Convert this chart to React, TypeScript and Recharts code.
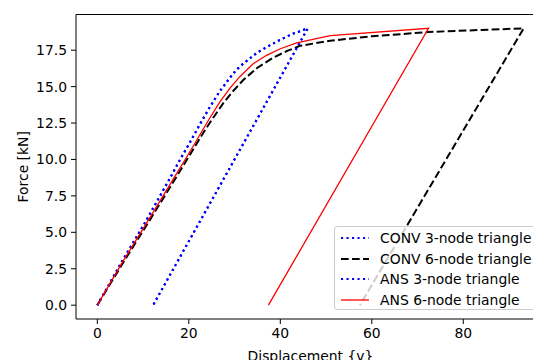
import {
    LineChart,
    Line,
    XAxis,
    YAxis,
    ReferenceLine,
} from "recharts";

// displacement / force pairs
const CONV3_X = [0, 5.2, 10.4, 15.5, 18.1, 20.3, 22.4, 24.6, 26.8, 29.7, 31.2, 34.8, 37.5, 39.9, 42.5, 46.0, 12.2];
const CONV3_Y = [0, 2.9, 5.65, 8.5, 10.0, 11.2, 12.4, 13.6, 14.7, 15.9, 16.4, 17.3, 17.8, 18.2, 18.6, 19.0, 0];

const CONV6_X = [0, 5.6, 11.0, 16.5, 20.0, 23.2, 25.3, 27.5, 29.7, 31.9, 35.0, 38.5, 41.5, 44.3, 50.9, 60.0, 72.4, 93.2, 57.4];
const CONV6_Y = [0, 2.9, 5.6, 8.4, 10.2, 11.85, 12.85, 13.85, 14.7, 15.45, 16.3, 17.0, 17.45, 17.8, 18.15, 18.45, 18.75, 19.0, 0];

const ANS3_X = [0, 5.2, 10.4, 15.5, 18.1, 20.3, 22.4, 24.6, 26.8, 29.7, 31.2, 34.8, 37.5, 39.9, 42.5, 46.0, 12.2];
const ANS3_Y = [0, 2.9, 5.65, 8.5, 10.0, 11.2, 12.4, 13.6, 14.7, 15.9, 16.4, 17.3, 17.8, 18.2, 18.6, 19.0, 0];

const ANS6_X = [0, 5.4, 10.8, 16.2, 19.2, 21.6, 22.8, 24.8, 26.8, 29.0, 31.2, 34.0, 37.0, 40.0, 43.6, 50.9, 72.4, 37.4];
const ANS6_Y = [0, 2.9, 5.65, 8.45, 10.0, 11.25, 11.9, 12.95, 13.95, 14.9, 15.7, 16.55, 17.15, 17.6, 18.0, 18.5, 19.0, 0];

const X_TICKS = [0, 20, 40, 60, 80];
const Y_TICKS = [0, 2.5, 5, 7.5, 10, 12.5, 15, 17.5];

const X_DOMAIN: [number, number] = [-4.66, 97.86];
const Y_DOMAIN: [number, number] = [-0.95, 19.95];

const FONT = "'DejaVu Sans', sans-serif";

const toPoints = (xs: number[], ys: number[]) => xs.map((x, i) => ({ x, y: ys[i] }));

const SERIES = [
    { name: "CONV 3-node triangle", data: toPoints(CONV3_X, CONV3_Y), color: "#0000ff", width: 2.1, dash: "2.1 3.4" },
    { name: "CONV 6-node triangle", data: toPoints(CONV6_X, CONV6_Y), color: "#000000", width: 2, dash: "7.7 3.3" },
    { name: "ANS 3-node triangle", data: toPoints(ANS3_X, ANS3_Y), color: "#0000ff", width: 2.1, dash: "2.1 3.4" },
    { name: "ANS 6-node triangle", data: toPoints(ANS6_X, ANS6_Y), color: "#ff0000", width: 1.3, dash: undefined },
];

function XLabel({ viewBox }: any) {
    const { x, y, width } = viewBox;
    return (
        <text x={x + width / 2} y={y + 42} textAnchor="middle" fontSize={13.9} fontFamily={FONT} fill="#000">
            Displacement {"{v}"}
        </text>
    );
}

function YLabel({ viewBox }: any) {
    const { x, y, height } = viewBox;
    const cx = x + 23;
    const cy = y + height / 2;
    return (
        <text
            x={cx}
            y={cy}
            transform={`rotate(-90, ${cx}, ${cy})`}
            textAnchor="middle"
            dominantBaseline="central"
            fontSize={13.9}
            fontFamily={FONT}
            fill="#000"
        >
            Force [kN]
        </text>
    );
}

function ChartLegend() {
    return (
        <div
            style={{
                position: "absolute",
                left: 334,
                top: 226,
                width: 204,
                height: 84,
                boxSizing: "border-box",
                border: "1px solid #cccccc",
                borderRadius: 3,
                background: "rgba(255,255,255,0.8)",
                fontFamily: FONT,
                fontSize: 13.9,
                color: "#000",
                paddingTop: 1,
            }}
        >
            {SERIES.map((s) => (
                <div key={s.name} style={{ display: "flex", alignItems: "center", height: 20.5, whiteSpace: "nowrap" }}>
                    <svg width={45} height={10} style={{ flex: "none" }}>
                        <line
                            x1={6}
                            y1={5}
                            x2={34}
                            y2={5}
                            stroke={s.color}
                            strokeWidth={s.width}
                            strokeDasharray={s.dash}
                        />
                    </svg>
                    <span>{s.name}</span>
                </div>
            ))}
        </div>
    );
}

export default function App() {
    return (
        <div style={{ position: "absolute", left: 0, top: 0, width: 533, height: 360, overflow: "hidden", background: "#fff" }}>
            <LineChart width={550} height={360} margin={{ top: 14.5, right: 5, bottom: 0, left: 0 }}>
                <XAxis
                    type="number"
                    dataKey="x"
                    domain={X_DOMAIN}
                    ticks={X_TICKS}
                    allowDataOverflow
                    height={41}
                    tickSize={5}
                    tickMargin={4}
                    stroke="#000"
                    tick={{ fill: "#000", fontSize: 13.9, fontFamily: FONT }}
                    label={<XLabel />}
                />
                <YAxis
                    type="number"
                    dataKey="y"
                    domain={Y_DOMAIN}
                    ticks={Y_TICKS}
                    allowDataOverflow
                    width={76}
                    tickSize={5}
                    tickMargin={4}
                    stroke="#000"
                    tickFormatter={(v: number) => v.toFixed(1)}
                    tick={{ fill: "#000", fontSize: 13.9, fontFamily: FONT }}
                    label={<YLabel />}
                />
                <ReferenceLine y={Y_DOMAIN[1]} stroke="#000" strokeWidth={1.1} />
                <ReferenceLine x={X_DOMAIN[1]} stroke="#000" strokeWidth={1.1} />
                {SERIES.map((s) => (
                    <Line
                        key={s.name}
                        data={s.data}
                        dataKey="y"
                        name={s.name}
                        type="linear"
                        stroke={s.color}
                        strokeWidth={s.width}
                        strokeDasharray={s.dash}
                        dot={false}
                        activeDot={false}
                        isAnimationActive={false}
                    />
                ))}
            </LineChart>
            <ChartLegend />
        </div>
    );
}
